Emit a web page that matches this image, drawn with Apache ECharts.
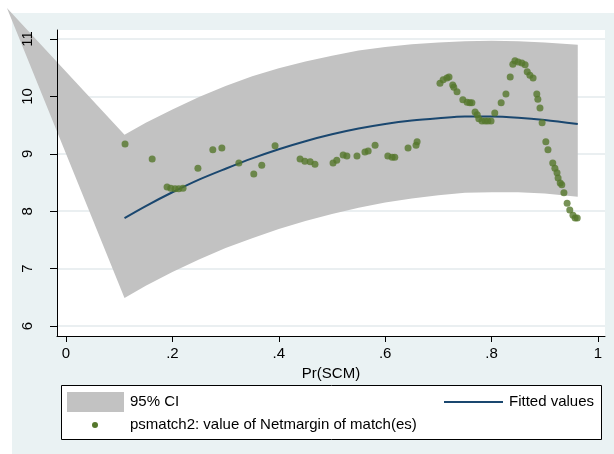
<!DOCTYPE html>
<html>
<head>
<meta charset="utf-8">
<script src="https://cdn.jsdelivr.net/npm/echarts@6/dist/echarts.min.js"></script>
<style>
  html, body { margin: 0; padding: 0; background: #ffffff; }
  #chart { width: 614px; height: 454px; }
</style>
</head>
<body>
<div id="chart"></div>
<script>
// Axis ticks and labels
const xTicks = [0, 0.2, 0.4, 0.6, 0.8, 1];
const xTickLabels = ['0', '.2', '.4', '.6', '.8', '1'];
const yTicks = [6, 7, 8, 9, 10, 11];

// 95% confidence band: first vertex, then upper and lower bounds over Pr(SCM)
const ciStart = [-0.111, 11.54];
const ciX = [0.11, 0.15, 0.2, 0.25, 0.3, 0.35, 0.4, 0.45, 0.5, 0.55, 0.6, 0.65, 0.7, 0.75, 0.8, 0.85, 0.9, 0.962];
const ciUpper = [9.33, 9.54, 9.77, 9.99, 10.18, 10.35, 10.49, 10.61, 10.71, 10.80, 10.86, 10.91, 10.94, 10.96, 10.97, 10.96, 10.94, 10.90];
const ciLower = [6.49, 6.70, 6.94, 7.16, 7.36, 7.53, 7.69, 7.83, 7.95, 8.06, 8.15, 8.22, 8.28, 8.32, 8.33, 8.33, 8.31, 8.25];

// Fitted values (quadratic fit)
const fitX = [0.11, 0.15, 0.2, 0.25, 0.3, 0.35, 0.4, 0.45, 0.5, 0.55, 0.6, 0.65, 0.7, 0.75, 0.8, 0.85, 0.9, 0.962];
const fitY = [7.88, 8.09, 8.33, 8.55, 8.74, 8.92, 9.08, 9.22, 9.34, 9.44, 9.52, 9.58, 9.62, 9.65, 9.65, 9.63, 9.59, 9.52];

// psmatch2: value of Netmargin of match(es)
const matchX = [0.111, 0.162, 0.190, 0.197, 0.205, 0.212, 0.220, 0.248, 0.276, 0.293,
  0.325, 0.353, 0.368, 0.393, 0.440, 0.449, 0.459, 0.468, 0.502, 0.509,
  0.521, 0.528, 0.547, 0.562, 0.568, 0.581, 0.605, 0.613, 0.618, 0.643,
  0.658, 0.660, 0.703, 0.709, 0.716, 0.720, 0.727, 0.729, 0.735, 0.746,
  0.754, 0.759, 0.763, 0.769, 0.773, 0.776, 0.782, 0.788, 0.793, 0.799,
  0.806, 0.818, 0.827, 0.835, 0.840, 0.844, 0.850, 0.857, 0.863, 0.867,
  0.872, 0.878, 0.885, 0.887, 0.891, 0.895, 0.902, 0.906, 0.915, 0.919,
  0.923, 0.925, 0.929, 0.932, 0.936, 0.942, 0.947, 0.953, 0.957, 0.961];
const matchY = [9.17, 8.91, 8.42, 8.40, 8.39, 8.39, 8.40, 8.75, 9.07, 9.10,
  8.84, 8.65, 8.80, 9.14, 8.91, 8.87, 8.86, 8.82, 8.84, 8.89,
  8.98, 8.96, 8.96, 9.03, 9.05, 9.15, 8.96, 8.94, 8.94, 9.10,
  9.15, 9.21, 10.23, 10.29, 10.32, 10.34, 10.20, 10.16, 10.08, 9.94,
  9.90, 9.89, 9.89, 9.73, 9.68, 9.61, 9.57, 9.57, 9.57, 9.57,
  9.71, 9.89, 10.04, 10.34, 10.56, 10.62, 10.60, 10.58, 10.55, 10.43,
  10.37, 10.32, 10.04, 9.95, 9.80, 9.54, 9.21, 9.07, 8.84, 8.75,
  8.67, 8.58, 8.49, 8.46, 8.32, 8.14, 8.02, 7.93, 7.88, 7.88];

const FONT = '"Liberation Sans", Arial, sans-serif';
const CI_FILL = '#c2c2c2';
const FIT_COLOR = '#1a476f';
const DOT_COLOR = '#55772c';

const xMin = -0.0169, xMax = 1.0132;
const yMin = 5.826, yMax = 11.157;

const ciPolygon = [ciStart]
  .concat(ciX.map((x, i) => [x, ciUpper[i]]))
  .concat(ciX.map((x, i) => [x, ciLower[i]]).reverse());

const chart = echarts.init(document.getElementById('chart'), null, { renderer: 'canvas' });

chart.setOption({
  backgroundColor: '#eaf2f3',
  animation: false,
  grid: {
    left: 57, right: 9, top: 30, bottom: 118,
    show: true, backgroundColor: '#ffffff', borderWidth: 0
  },
  xAxis: {
    type: 'value', min: xMin, max: xMax,
    name: 'Pr(SCM)', nameLocation: 'middle', nameGap: 24,
    nameTextStyle: { fontFamily: FONT, fontSize: 15, color: '#000' },
    axisLine: { show: true, onZero: false, lineStyle: { color: '#000', width: 1 } },
    axisTick: { show: true, length: 6, customValues: xTicks, lineStyle: { color: '#000' } },
    axisLabel: {
      customValues: xTicks, margin: 10,
      fontFamily: FONT, fontSize: 15, color: '#000',
      formatter: v => xTickLabels[xTicks.findIndex(t => Math.abs(t - v) < 1e-9)]
    },
    splitLine: { show: false }
  },
  yAxis: [
    {
      type: 'value', min: yMin, max: yMax, z: 0,
      axisLine: { show: false },
      axisTick: { show: false, customValues: yTicks },
      axisLabel: { show: false, customValues: yTicks },
      splitLine: { show: true, lineStyle: { color: '#e3eaec', width: 1.5 } }
    },
    {
      type: 'value', min: yMin, max: yMax, z: 6, position: 'left',
      axisLine: { show: true, onZero: false, lineStyle: { color: '#000', width: 1 } },
      axisTick: { show: true, length: 7, customValues: yTicks, lineStyle: { color: '#000' } },
      axisLabel: {
        customValues: yTicks, rotate: 90, margin: 22,
        fontFamily: FONT, fontSize: 15, color: '#000'
      },
      splitLine: { show: false }
    }
  ],
  series: [
    {
      name: '95% CI', type: 'custom', z: 1, silent: true, clip: false,
      data: [[0.5, 9]],
      renderItem: (params, api) => ({
        type: 'polygon',
        shape: { points: ciPolygon.map(p => api.coord(p)) },
        style: { fill: CI_FILL }
      })
    },
    {
      name: 'Fitted values', type: 'line', z: 3,
      data: fitX.map((x, i) => [x, fitY[i]]),
      showSymbol: false, smooth: 0.3,
      lineStyle: { color: FIT_COLOR, width: 2 }
    },
    {
      name: 'psmatch2: value of Netmargin of match(es)', type: 'scatter', z: 4,
      data: matchX.map((x, i) => [x, matchY[i]]),
      symbol: 'circle', symbolSize: 7,
      itemStyle: { color: DOT_COLOR }
    }
  ],
  graphic: [
    // white page margin around the graph region
    { type: 'rect', z: -100, shape: { x: 0, y: 0, width: 614, height: 13 }, style: { fill: '#ffffff' } },
    { type: 'rect', z: -100, shape: { x: 0, y: 0, width: 12, height: 454 }, style: { fill: '#ffffff' } },
    // legend box
    { type: 'rect', z: 10, shape: { x: 61.5, y: 385.5, width: 540, height: 54 },
      style: { fill: '#ffffff', stroke: '#000', lineWidth: 1 } },
    { type: 'rect', z: 11, shape: { x: 67, y: 392, width: 57, height: 20 }, style: { fill: CI_FILL } },
    { type: 'text', z: 11, style: { x: 130, y: 402, text: '95% CI', font: '15px ' + FONT, fill: '#000', verticalAlign: 'middle' } },
    { type: 'line', z: 11, shape: { x1: 444, y1: 402, x2: 503, y2: 402 }, style: { stroke: FIT_COLOR, lineWidth: 2 } },
    { type: 'text', z: 11, style: { x: 509, y: 402, text: 'Fitted values', font: '15px ' + FONT, fill: '#000', verticalAlign: 'middle' } },
    { type: 'circle', z: 11, shape: { cx: 95, cy: 425, r: 3 }, style: { fill: DOT_COLOR } },
    { type: 'text', z: 11, style: { x: 130, y: 425, text: 'psmatch2: value of Netmargin of match(es)', font: '15px ' + FONT, fill: '#000', verticalAlign: 'middle' } }
  ]
});
</script>
</body>
</html>
